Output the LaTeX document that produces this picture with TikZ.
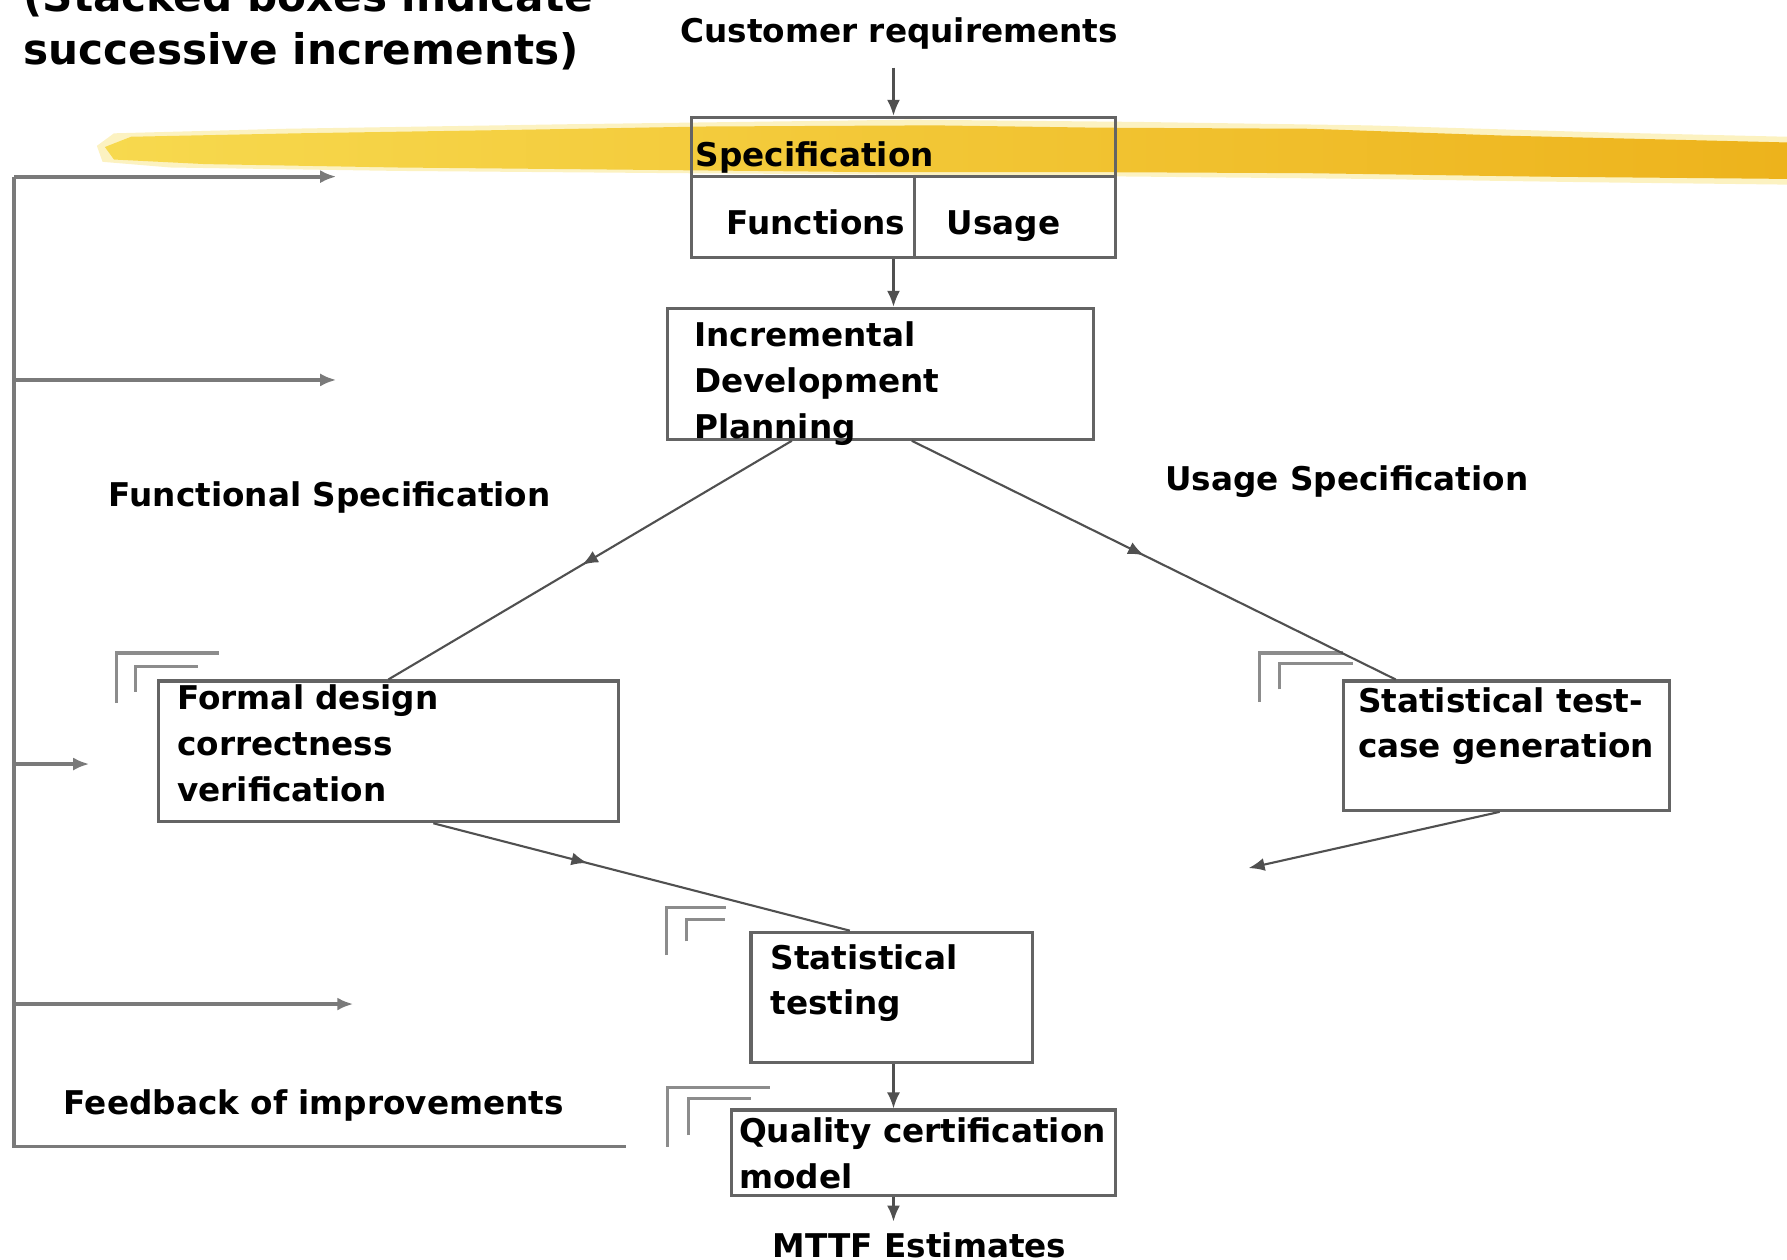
\documentclass[tikz,border=0pt]{standalone}
\usepackage{fontspec}
\setmainfont{DejaVu Sans}
\usetikzlibrary{arrows.meta,decorations.markings,fit}
\definecolor{boxgray}{HTML}{646464}
\definecolor{linegray}{HTML}{505050}
\definecolor{backgray}{HTML}{7A7A7A}
\definecolor{stackgray}{HTML}{8C8C8C}
\definecolor{brushL}{HTML}{F7D94E}
\definecolor{brushM}{HTML}{F3C51F}
\definecolor{brushR}{HTML}{EDB31C}
\begin{document}
\begin{tikzpicture}[x=0.011397cm,y=-0.011397cm,
    font=\bfseries\fontsize{9.3}{13}\selectfont,
    txt/.style={inner sep=0pt,anchor=base west,align=left},
    box/.style={draw=boxgray,line width=0.9pt,inner sep=0pt},
    flow/.style={draw=linegray,line width=0.6pt,-{Latex[length=1.6mm,width=1.3mm]}},
    midflow/.style={draw=linegray,line width=0.6pt,postaction={decorate},
      decoration={markings,mark=at position #1 with {\arrow{Latex[length=1.6mm,width=1.3mm]}}}},
    back/.style={draw=backgray,line width=1.1pt},
    stack/.style={draw=stackgray,line width=0.9pt}]
      \useasboundingbox (0,0) rectangle (1568,1105);
      \fill[brushL,opacity=.35]
        (85,128) -- (100,117) -- (250,113) -- (500,109) -- (800,105) -- (1000,107)
        -- (1200,110) -- (1400,116) -- (1568,120) -- (1568,162) -- (1400,160)
        -- (1200,157) -- (900,154) -- (600,152) -- (350,150) -- (150,147) -- (90,142) -- cycle;
      \shade[left color=brushL,middle color=brushM,right color=brushR]
        (92,129) -- (115,120) -- (260,117) -- (450,114) -- (620,111) -- (820,110)
        -- (960,112) -- (1150,113) -- (1320,119) -- (1568,125) -- (1568,157)
        -- (1350,155) -- (1150,152) -- (950,151) -- (760,151) -- (560,149)
        -- (350,147) -- (180,144) -- (100,140) -- cycle;
      \coordinate (axis) at (784,0);
      \node[txt,font=\bfseries\fontsize{12}{15.2}\selectfont] (title) at (20,57)
        {(Stacked boxes indicate\\successive increments)};
      \node[inner sep=0pt,anchor=base] (cust) at (789,37) {Customer requirements};
      \node[box,fit={(606.5,103) (979,226)}] (spec) {};
      \draw[box] (606.5,155) -- (979,155) (802.6,155) -- (802.6,226);
      \node[txt] (specT) at (610,146) {Specification};
      \node[txt] (specF) at (637,206) {Functions};
      \node[txt] (specU) at (830,206) {Usage};
      \node[box,fit={(586,270.6) (959.7,385.4)}] (incr) {};
      \node[txt] (incrT) at (608.5,384.6) {Incremental\\Development\\Planning};
      \node[txt] (funcS) at (95,444.6) {Functional Specification};
      \node[txt] (useS) at (1022,430) {Usage Specification};
      \node[box,fit={(139,597.6) (542.5,721)}] (formal) {};
      \node[txt] (formalT) at (155,703) {Formal design\\correctness\\verification};
      \node[box,fit={(1179,597.6) (1465,711)}] (stc) {};
      \node[txt] (stcT) at (1191,665) {Statistical test-\\case generation};
      \node[box,fit={(659,818) (906,932)}] (test) {};
      \node[txt] (testT) at (675.6,890.6) {Statistical\\testing};
      \node[box,fit={(642,974) (979,1049)}] (qual) {};
      \node[txt] (qualT) at (648,1042.5) {Quality certification\\model};
      \node[inner sep=0pt,anchor=base] (mttf) at (807,1103) {MTTF Estimates};
      \node[txt] (fbT) at (55.5,978) {Feedback of improvements};
      \coordinate (usageEnd) at (1095.6,761.7);
      \foreach \x/\yb/\yt/\xr in {102/617/573/192,119/607/585/174,1105/616/573/1178,1123/605/582/1187,
          585/838/796/637,602/826/807/636,586/1006/954/676,604/996/964/659}
        \draw[stack] (\x,\yb) |- (\xr,\yt);
      \begin{scope}
        \draw[flow,shorten <=0.18cm] (axis |- cust.south) -- (axis |- spec.north);
        \draw[flow] (axis |- spec.south) -- (axis |- incr.north);
        \draw[midflow=0.52] ([xshift=-0.89cm]incr.south) -- (formal.north);
        \draw[midflow=0.48] ([xshift=0.31cm]incr.south) -- ([xshift=-1.11cm]stc.north);
        \draw[midflow=0.37] ([xshift=0.45cm]formal.south) -- ([xshift=-0.42cm]test.north);
        \draw[flow] ([xshift=-0.07cm]stc.south) -- (usageEnd);
        \draw[flow] (axis |- test.south) -- (axis |- qual.north);
        \draw[flow,shorten >=0.1cm] (axis |- qual.south) -- (axis |- mttf.north);
      \end{scope}
      \coordinate (fbEnd) at (549,1006);
      \coordinate (fbCorner) at (12.6,1006);
      \coordinate (fbTop) at (12.6,155);
      \draw[back] (fbEnd) -- (fbCorner) -- (fbTop);
      \foreach \y/\t [count=\i] in {155/295,333.4/295,670.4/78.3,881/310} {
        \coordinate (fbS\i) at (12.6,\y);
        \coordinate (fbA\i) at (\t,\y);
        \draw[back,-{Latex[length=1.6mm,width=1.3mm]}] (fbS\i) -- (fbA\i);
      }
    \end{tikzpicture}
\end{document}
